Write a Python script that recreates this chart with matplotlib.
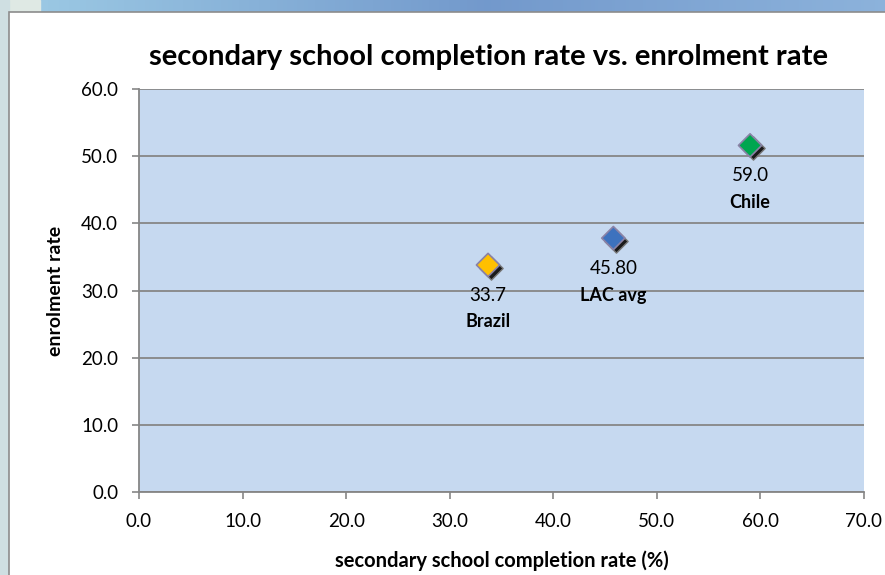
import numpy as np
import matplotlib
matplotlib.use("Agg")
import matplotlib.pyplot as plt
import matplotlib.transforms as mtransforms
from matplotlib.patches import Rectangle

# data
countries = ["Brazil", "LAC avg", "Chile"]
completion = [33.7, 45.8, 59.0]
enrolment = [33.8, 37.8, 51.6]
value_labels = ["33.7", "45.80", "59.0"]
colors = ["#FFC000", "#3D72BE", "#00A650"]

x_ticks = [0, 10, 20, 30, 40, 50, 60, 70]
y_ticks = [0, 10, 20, 30, 40, 50, 60]

plt.rcParams["font.family"] = ["Lato", "DejaVu Sans"]

fig = plt.figure(figsize=(8.85, 5.75), dpi=100)

# slide background (gradient strip top, pale strip left)
bg = fig.add_axes([0, 0, 1, 1], zorder=-10)
bg.set_axis_off()
grad = np.linspace(0, 1, 256)
top = np.zeros((1, 256, 3))
c0 = np.array([0.62, 0.80, 0.90])
c1 = np.array([0.45, 0.60, 0.80])
c2 = np.array([0.55, 0.70, 0.86])
for i, t in enumerate(grad):
    top[0, i] = c0 + (c1 - c0) * (t / 0.55) if t < 0.55 else c1 + (c2 - c1) * ((t - 0.55) / 0.45)
bg.imshow(top, extent=[0, 1, 0, 1], aspect="auto", transform=bg.transAxes)
bg.add_patch(Rectangle((0, 0), 0.045, 1, transform=bg.transAxes, color="#dfe9e4", zorder=2))
bg.add_patch(Rectangle((0, 0), 9 / 885, 1, transform=bg.transAxes, color="#cfdfe2", zorder=3))
bg.add_patch(Rectangle((9 / 885, -0.01), 1, 1 - 12 / 575 + 0.01, transform=bg.transAxes,
                       facecolor="white", edgecolor="#8c8c8c", linewidth=1.2, zorder=4))
bg.set_xlim(0, 1)
bg.set_ylim(0, 1)

ax = fig.add_axes([139 / 885, 83 / 575, 725 / 885, 403 / 575])
ax.set_facecolor("#C6D9F0")
ax.set_xlim(0, 70)
ax.set_ylim(0, 60)
ax.set_xticks(x_ticks)
ax.set_yticks(y_ticks)
ax.set_xticklabels([f"{v:.1f}" for v in x_ticks])
ax.set_yticklabels([f"{v:.1f}" for v in y_ticks])
ax.yaxis.grid(True, color="#868686", linewidth=1.3)
ax.set_axisbelow(True)
for s in ["top", "right"]:
    ax.spines[s].set_visible(False)
for s in ["left", "bottom"]:
    ax.spines[s].set_color("#868686")
    ax.spines[s].set_linewidth(1.3)
ax.tick_params(axis="both", colors="#868686", length=5, width=1.2, labelsize=13.5,
               labelcolor="black")
ax.tick_params(axis="x", pad=10)
ax.tick_params(axis="y", pad=10)

ax.set_xlabel("secondary school completion rate (%)", fontsize=14.5, fontweight="bold", labelpad=15)
ax.set_ylabel("enrolment rate", fontsize=14, fontweight="bold", labelpad=12)
fig.text(0.552, 1 - 57 / 575, "secondary school completion rate vs. enrolment rate",
         ha="center", va="center", fontsize=21, fontweight="bold")

# shadow of markers
shadow = mtransforms.offset_copy(ax.transData, fig=fig, x=3, y=-3, units="dots")
ax.scatter(completion, enrolment, marker="D", s=140, color="#1a1a1a", edgecolor="#777777",
           linewidth=1, transform=shadow, zorder=3, clip_on=False)
ax.scatter(completion, enrolment, marker="D", s=140, c=colors, edgecolor="#8a82a6",
           linewidth=1.2, zorder=4, clip_on=False)

for x, y, v, name in zip(completion, enrolment, value_labels, countries):
    ax.annotate(v, (x, y), xytext=(0, -22), textcoords="offset points", ha="center",
                va="center", fontsize=13.5)
    ax.annotate(name, (x, y), xytext=(0, -41), textcoords="offset points", ha="center",
                va="center", fontsize=13, fontweight="bold")

fig.savefig("out.png", dpi=100)
